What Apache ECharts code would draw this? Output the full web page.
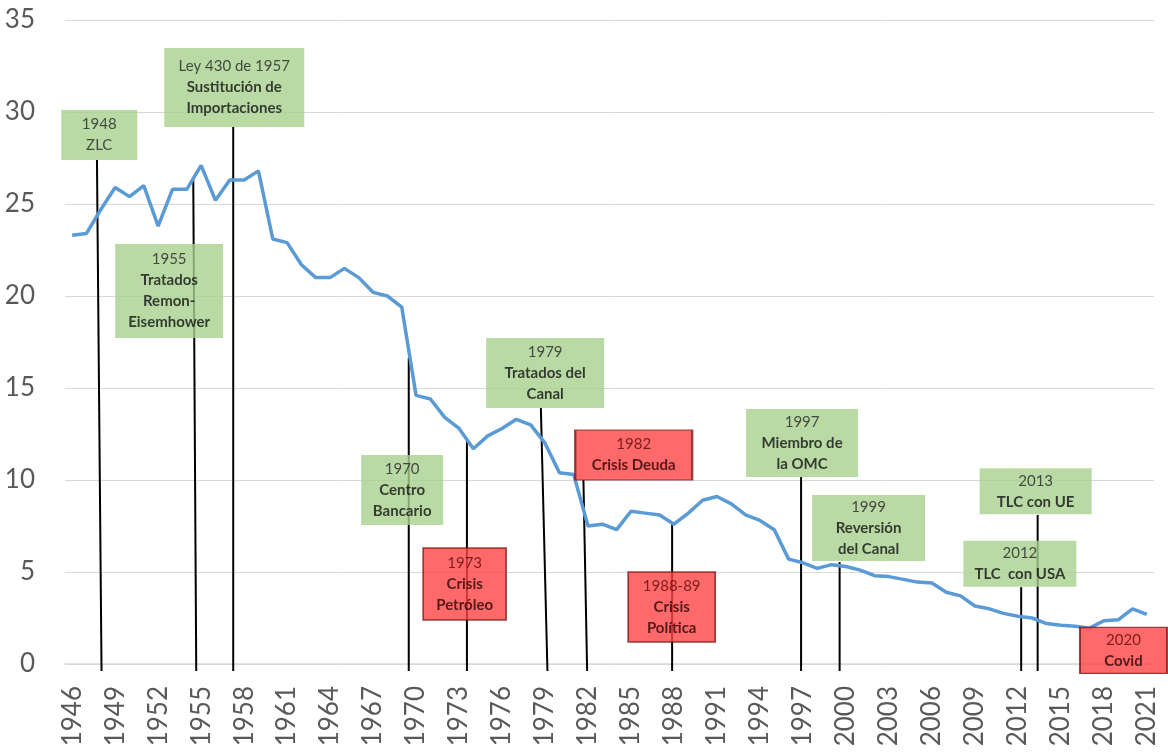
<!DOCTYPE html>
<html>
<head>
<meta charset="utf-8">
<script src="https://cdn.jsdelivr.net/npm/echarts@6/dist/echarts.min.js"></script>
<style>
  html, body { margin: 0; padding: 0; background: #fff; }
  #main { width: 1168px; height: 754px; }
</style>
</head>
<body>
<div id="main"></div>
<script>
// años (categorias del eje x)
const years = [
  '1946','1947','1948','1949','1950','1951','1952','1953','1954','1955',
  '1956','1957','1958','1959','1960','1961','1962','1963','1964','1965',
  '1966','1967','1968','1969','1970','1971','1972','1973','1974','1975',
  '1976','1977','1978','1979','1980','1981','1982','1983','1984','1985',
  '1986','1987','1988','1989','1990','1991','1992','1993','1994','1995',
  '1996','1997','1998','1999','2000','2001','2002','2003','2004','2005',
  '2006','2007','2008','2009','2010','2011','2012','2013','2014','2015',
  '2016','2017','2018','2019','2020','2021'
];

// valores de la serie
const values = [
  23.3, 23.4, 24.7, 25.9, 25.4, 26.0, 23.8, 25.8, 25.8, 27.1,
  25.2, 26.3, 26.3, 26.8, 23.1, 22.9, 21.7, 21.0, 21.0, 21.5,
  21.0, 20.2, 20.0, 19.4, 14.6, 14.4, 13.4, 12.8, 11.7, 12.4,
  12.8, 13.3, 13.0, 12.0, 10.4, 10.3, 7.5, 7.6, 7.3, 8.3,
  8.2, 8.1, 7.6, 8.2, 8.9, 9.1, 8.7, 8.1, 7.8, 7.3,
  5.7, 5.5, 5.2, 5.4, 5.3, 5.1, 4.8, 4.75, 4.6, 4.45,
  4.4, 3.9, 3.7, 3.15, 3.0, 2.75, 2.6, 2.5, 2.2, 2.1,
  2.05, 1.95, 2.35, 2.4, 3.0, 2.7
];

// ticks del eje y
const yTicks = [0, 5, 10, 15, 20, 25, 30, 35];

// anotaciones: primera linea, texto en negrita, tipo
const noteHeads = ['1948', 'Ley 430 de 1957', '1955', '1970', '1979', '1982', '1973',
  '1988-89', '1997', '1999', '2013', '2012', '2020'];
const noteBodies = [
  ['ZLC'],
  ['Sustitución de', 'Importaciones'],
  ['Tratados', 'Remon-', 'Eisemhower'],
  ['Centro', 'Bancario'],
  ['Tratados del', 'Canal'],
  ['Crisis Deuda'],
  ['Crisis', 'Petróleo'],
  ['Crisis', 'Política'],
  ['Miembro de', 'la OMC'],
  ['Reversión', 'del Canal'],
  ['TLC con UE'],
  ['TLC  con USA'],
  ['Covid']
];
const noteKinds = ['ok', 'ok', 'ok', 'ok', 'ok', 'crisis', 'crisis', 'crisis', 'ok', 'ok', 'ok', 'ok', 'crisis'];

// layout de las cajas: [año centro, valor centro, ancho px, alto px]
const boxLayout = [
  [1947.89, 28.75, 76, 50],
  [1957.31, 31.33, 140, 79],
  [1952.77, 20.27, 108, 94],
  [1969.03, 9.46, 82, 70],
  [1979.01, 15.82, 118, 70],
  [1985.19, 11.36, 117, 50],
  [1973.39, 4.35, 83, 72],
  [1987.84, 3.10, 87, 70],
  [1996.94, 12.01, 112, 68],
  [2001.58, 7.39, 113, 66],
  [2013.24, 9.39, 112, 46],
  [2012.14, 5.45, 113, 46],
  [2019.37, 0.74, 87, 46]
];

// layout de las lineas verticales: [año arriba, valor arriba, año abajo]
const lineLayout = [
  [1947.73, 27.39, 1948.05],
  [1954.45, 26.44, 1954.66],
  [1957.24, 29.18, 1957.24],
  [1969.49, 16.63, 1969.49],
  [1973.55, 12.28, 1973.55],
  [1978.71, 13.91, 1979.17],
  [1981.68, 10.0, 1981.94],
  [1987.87, 7.61, 1987.87],
  [1996.87, 10.16, 1996.87],
  [1999.56, 5.54, 1999.56],
  [2012.23, 4.18, 2012.23],
  [2013.38, 8.10, 2013.38]
];
const lineBottom = -0.38;

const FONT = 'Lato, "Open Sans", sans-serif';

var boxData = boxLayout.map(function (b, i) {
  var crisis = noteKinds[i] === 'crisis';
  var txt = '{h|' + noteHeads[i] + '}';
  noteBodies[i].forEach(function (s) { txt += '\n{' + (i === 0 ? 'h' : 'b') + '|' + s + '}'; });
  return {
    value: [b[0], b[1]],
    symbolSize: [b[2], b[3]],
    itemStyle: crisis
      ? { color: '#ff4343', borderColor: '#7a1c1c', borderWidth: 1.5 }
      : { color: '#a9d18e', borderWidth: 0 },
    label: {
      show: true,
      position: 'inside',
      formatter: txt,
      rich: {
        h: { fontFamily: FONT, fontSize: 15, lineHeight: 21, color: crisis ? '#5a0a0a' : '#262626' },
        b: { fontFamily: FONT, fontSize: 15, lineHeight: 21, fontWeight: 'bold', color: crisis ? '#2a0505' : '#111' }
      }
    }
  };
});

var option = {
  animation: false,
  backgroundColor: '#fff',
  grid: { left: 65, right: 14, top: 20, bottom: 90, containLabel: false, outerBoundsMode: 'none' },
  xAxis: [
    {
      type: 'category',
      data: years,
      boundaryGap: true,
      axisTick: { show: false },
      axisLine: { lineStyle: { color: '#d9d9d9', width: 1.5 } },
      axisLabel: {
        interval: 2,
        rotate: 90,
        margin: 22,
        fontSize: 26,
        fontFamily: FONT,
        color: '#595959'
      },
      splitLine: { show: false }
    },
    {
      type: 'value',
      min: 1945.5,
      max: 2021.5,
      show: false
    }
  ],
  yAxis: {
    type: 'value',
    min: yTicks[0],
    max: yTicks[yTicks.length - 1],
    interval: 5,
    axisLine: { show: false },
    axisTick: { show: false },
    axisLabel: { fontSize: 26, fontFamily: FONT, color: '#595959', margin: 30 },
    splitLine: { lineStyle: { color: '#d9d9d9', width: 1 } }
  },
  series: [
    {
      name: 'lineas',
      type: 'custom',
      xAxisIndex: 1,
      z: 1,
      clip: false,
      silent: true,
      data: lineLayout,
      renderItem: function (params, api) {
        var top = api.coord([api.value(0), api.value(1)]);
        var bot = api.coord([api.value(2), lineBottom]);
        return {
          type: 'line',
          shape: { x1: top[0], y1: top[1], x2: bot[0], y2: bot[1] },
          style: { stroke: '#000', lineWidth: 2 }
        };
      }
    },
    {
      name: 'serie',
      type: 'line',
      xAxisIndex: 0,
      data: values,
      z: 2,
      showSymbol: false,
      lineStyle: { color: '#5b9bd5', width: 3.5 },
      itemStyle: { color: '#5b9bd5' }
    },
    {
      name: 'cajas',
      type: 'scatter',
      xAxisIndex: 1,
      symbol: 'rect',
      z: 3,
      clip: false,
      silent: true,
      data: boxData
    }
  ]
};

var chart = echarts.init(document.getElementById('main'));
chart.setOption(option);
</script>
</body>
</html>
